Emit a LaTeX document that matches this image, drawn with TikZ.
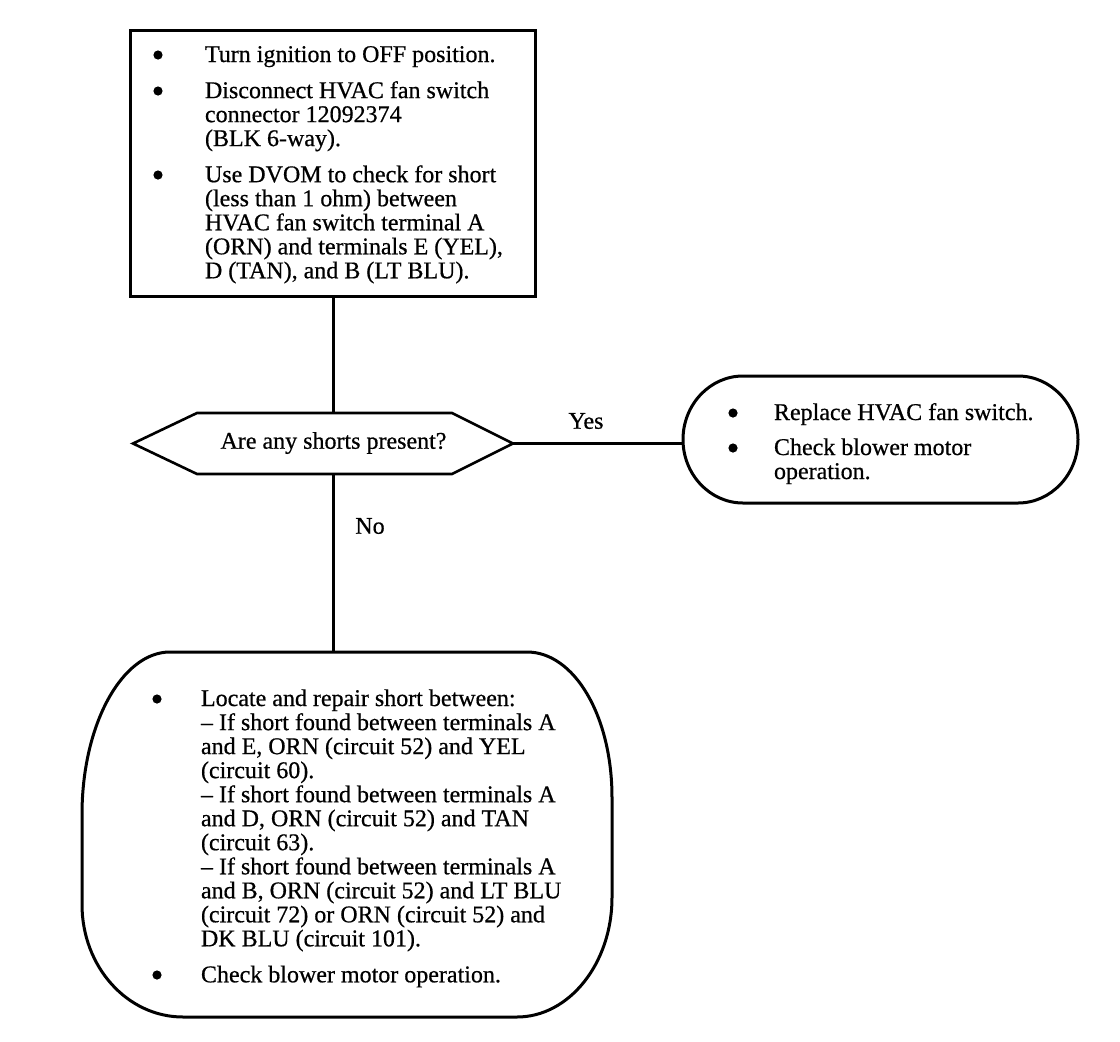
\documentclass[tikz,border=0pt]{standalone}
\usepackage{fontspec}
\setmainfont{Liberation Serif}
\newfontfamily\scanfont{Liberation Serif}[Ligatures=TeX, FakeBold=0.6]
\usetikzlibrary{calc}
\tikzset{
  boxline/.style={line width=3pt, line join=round},
  hexline/.style={line width=2.6pt, line join=miter},
  conn/.style={line width=2.2pt},
  frame/.style={inner sep=0pt, outer sep=0pt},
  txt/.style={inner sep=0pt, outer sep=0pt, anchor=base west, align=left},
  lbl/.style={inner sep=0pt, font=\bigfont},
  dot/.style={fill=black}
}
\newcommand{\bigfont}{\scanfont\fontsize{24}{24}\selectfont}
\begin{document}
\begin{tikzpicture}[x=1pt,y=-1pt]
\useasboundingbox (0,0) rectangle (1120,1042);

% ---- frames (named nodes) ----
\node[frame, minimum width=405pt, minimum height=266pt] (topbox) at (332.5,163) {};
\node[frame, minimum width=380pt, minimum height=61pt] (hex) at (323,443.5) {};
\node[frame, minimum width=395pt, minimum height=127pt] (yesbox) at (880.5,439.5) {};
\node[frame, minimum width=530pt, minimum height=365pt] (nobox) at (347,834.5) {};

% ---- outlines ----
\draw[boxline, line join=miter] (topbox.north west) rectangle (topbox.south east);

\draw[hexline]
  (hex.west) -- ($(hex.north west)+(64,0)$) -- ($(hex.north east)+(-61,0)$)
  -- (hex.east) -- ($(hex.south east)+(-61,0)$) -- ($(hex.south west)+(64,0)$) -- cycle;

\draw[boxline]
  (yesbox.west) .. controls +(0,-35) and +(-33,0) .. ($(yesbox.north west)+(60,0)$)
  -- ($(yesbox.north east)+(-60,0)$)
  .. controls +(33,0) and +(0,-35) .. (yesbox.east)
  .. controls +(0,35) and +(33,0) .. ($(yesbox.south east)+(-60,0)$)
  -- ($(yesbox.south west)+(60,0)$)
  .. controls +(-33,0) and +(0,35) .. (yesbox.west) -- cycle;

\draw[boxline]
  ($(nobox.north west)+(88,0)$)
  -- ($(nobox.north east)+(-85,0)$)
  .. controls +(47,0) and +(0,-82) .. ($(nobox.east)+(0,-37)$)
  -- ($(nobox.east)+(0,63)$)
  .. controls +(0,66) and +(52,0) .. ($(nobox.south east)+(-95,0)$)
  -- ($(nobox.south west)+(101,0)$)
  .. controls +(-56,0) and +(0,62) .. ($(nobox.west)+(0,70)$)
  -- ($(nobox.west)+(0,-20)$)
  .. controls +(0,-90) and +(-48,0) .. ($(nobox.north west)+(88,0)$) -- cycle;

% ---- bullets ----
\fill[dot] (158,55) circle (4.6);
\fill[dot] (158,91) circle (4.6);
\fill[dot] (158,175) circle (4.6);
\fill[dot] (733,413) circle (4.6);
\fill[dot] (733,448) circle (4.6);
\fill[dot] (157,699) circle (4.6);
\fill[dot] (157,975) circle (4.6);

% ---- texts ----
\node[txt] (toptext) at (205,62) {\bigfont
\begin{tabular}[t]{@{}l@{}}
Turn ignition to OFF position.\\[12pt]
Disconnect HVAC fan switch\\
connector 12092374\\
(BLK 6-way).\\[12pt]
Use DVOM to check for short\\
(less than 1 ohm) between\\
HVAC fan switch terminal A\\
(ORN) and terminals E (YEL),\\
D (TAN), and B (LT BLU).
\end{tabular}};

\node[inner sep=0pt, font=\bigfont] (hexlabel) at (333.5,443) {Are any shorts present?};

\node[txt] (yestext) at (774,420) {\bigfont
\begin{tabular}[t]{@{}l@{}}
Replace HVAC fan switch.\\[11pt]
Check blower motor\\
operation.
\end{tabular}};

\node[txt] (notext) at (201,706) {\bigfont
\begin{tabular}[t]{@{}l@{}}
Locate and repair short between:\\
\textendash{} If short found between terminals A\\
and E, ORN (circuit 52) and YEL\\
(circuit 60).\\
\textendash{} If short found between terminals A\\
and D, ORN (circuit 52) and TAN\\
(circuit 63).\\
\textendash{} If short found between terminals A\\
and B, ORN (circuit 52) and LT BLU\\
(circuit 72) or ORN (circuit 52) and\\
DK BLU (circuit 101).\\[12pt]
Check blower motor operation.
\end{tabular}};

% ---- connectors ----
\draw[conn] (topbox.south -| hexlabel) -- (hex.north -| hexlabel);
\draw[conn] (hex.south -| hexlabel) -- (nobox.north -| hexlabel);
\draw[conn] (hex.east) -- (hex.east -| yesbox.west);

% ---- labels ----
\node[lbl] (yeslbl) at (586,421) {Yes};
\node[lbl] (nolbl) at (370,526) {No};
\end{tikzpicture}
\end{document}
